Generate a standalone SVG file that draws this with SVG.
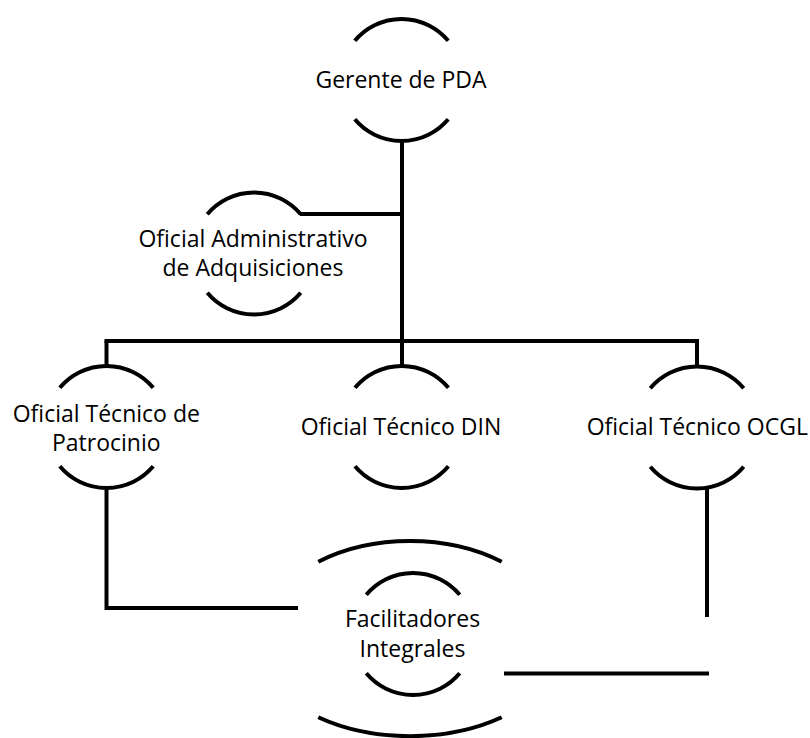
<svg xmlns="http://www.w3.org/2000/svg" width="810" height="738" viewBox="0 0 810 738">
<style>
.arc{fill:none;stroke:#000;stroke-width:4}
.ln{fill:none;stroke:#000;stroke-width:4}
text{font-family:"Open Sans","Liberation Sans",sans-serif;font-size:23px;fill:#000;text-anchor:middle}
</style>
<rect width="810" height="738" fill="#fff"/>
<g id="connectors">
<path class="ln" d="M402 141 V366"/>
<path class="ln" d="M300 214 H402"/>
<path class="ln" d="M104.5 341 H699"/>
<path class="ln" d="M106.5 341 V366"/>
<path class="ln" d="M697 341 V366"/>
<path class="ln" d="M106.5 488 V608 H298"/>
<path class="ln" d="M707 486 V617"/>
<path class="ln" d="M504 673.5 H709"/>
</g>
<g id="gerente">
<path class="arc" d="M354.8 40.8 A61 61 0 0 1 448.2 40.8 M354.8 119.2 A61 61 0 0 0 448.2 119.2"/>
<text x="401" y="88">Gerente de PDA</text>
</g>
<g id="admin">
<path class="arc" d="M207.3 214.3 A61 61 0 0 1 300.7 214.3 M207.3 292.7 A61 61 0 0 0 300.7 292.7"/>
<text x="253" y="247">Oficial Administrativo</text>
<text x="253" y="276">de Adquisiciones</text>
</g>
<g id="patrocinio">
<path class="arc" d="M59.8 387.8 A61 61 0 0 1 153.2 387.8 M59.8 466.2 A61 61 0 0 0 153.2 466.2"/>
<text x="106.3" y="421.7">Oficial Técnico de</text>
<text x="106.3" y="450.5">Patrocinio</text>
</g>
<g id="din">
<path class="arc" d="M355 387.8 A61 61 0 0 1 448.4 387.8 M355 466.2 A61 61 0 0 0 448.4 466.2"/>
<text x="401" y="434.5">Oficial Técnico DIN</text>
</g>
<g id="ocgl">
<path class="arc" d="M650.3 388.3 A61 61 0 0 1 743.7 388.3 M650.3 466.7 A61 61 0 0 0 743.7 466.7"/>
<text x="697.3" y="434.5">Oficial Técnico OCGL</text>
</g>
<g id="facilitadores">
<path class="arc" d="M318.3 561.7 A149 98 0 0 1 501.7 561.7 M318.3 717.3 A152 93 0 0 0 501.7 717.3"/>
<path class="arc" d="M366.3 594.8 A61 61 0 0 1 459.7 594.8 M366.3 673.2 A61 61 0 0 0 459.7 673.2"/>
<text x="412.5" y="627">Facilitadores</text>
<text x="412.5" y="657">Integrales</text>
</g>
</svg>
